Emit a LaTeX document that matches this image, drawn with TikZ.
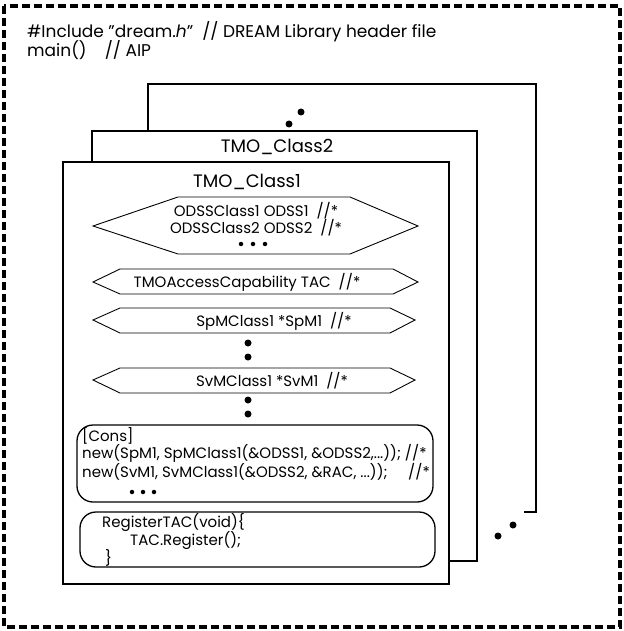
\documentclass[tikz,border=0pt]{standalone}
\usepackage{fontspec}
\setmainfont{Poppins}
\begin{document}
\begin{tikzpicture}[x=1pt,y=-1pt,
  frame/.style={line width=2.2pt,line join=miter},
  hexa/.style={line width=0.9pt,line join=miter},
  codebox/.style={line width=1.3pt,rounded corners=16pt},
  dot/.style={fill=black,circle,inner sep=0pt,minimum size=7pt},
  hdr/.style={font=\fontsize{17}{20}\selectfont,anchor=base west,inner sep=0pt},
  title/.style={font=\fontsize{18}{21}\selectfont,anchor=base,inner sep=0pt},
  code/.style={font=\fontsize{15}{17}\selectfont,inner sep=0pt},
  codel/.style={code,anchor=base west}]
\useasboundingbox (0,0) rectangle (623,631);

% outer program frame
\draw[line width=4pt,dash pattern=on 8pt off 4pt] (4,6) rectangle (620,627);
\node[hdr] (inc) at (27,38) {\#Include "dream.\textit{h}"\ \ // DREAM Library header file};
\node[hdr] (main) at (27,57) {main()\ \ \ \ // AIP};

% stacked TMO class frames, back to front
\draw[frame] (148,131) -- (148,84) -- (536,84) -- (536,512) -- (524,512);
\node[dot] (d1) at (289,124) {};
\node[dot] (d2) at (301,112) {};
\draw[frame] (92,162) -- (92,131) -- (477,131) -- (477,561) -- (449,561);
\node[title] (c2) at (277,153) {TMO\_Class2};
\draw[frame,fill=white] (63,162) rectangle (449,584);
\node[title] (c1) at (247,187) {TMO\_Class1};

% trailing ellipsis for further classes
\node[dot] (d3) at (498,536) {};
\node[dot] (d4) at (513,525) {};

% ODSS declarations
\draw[hexa] (93,226) -- (178,197) -- (350,197) -- (418,226) -- (350,254) -- (178,254) -- cycle;
\node[code,anchor=base] (o1) at (256,216) {ODSSClass1 ODSS1\ \ //*};
\node[code,anchor=base] (o2) at (256,233) {ODSSClass2 ODSS2\ \ //*};
\node[dot,minimum size=4.5pt] (o3) at (241,244) {};
\node[dot,minimum size=4.5pt] (o4) at (253,244) {};
\node[dot,minimum size=4.5pt] (o5) at (265,244) {};

% access capability
\draw[hexa] (93,282) -- (120,269) -- (393,269) -- (418,282) -- (393,294) -- (120,294) -- cycle;
\node[code,anchor=base] (tac) at (247,287) {TMOAccessCapability TAC\ \ //*};

% service managers
\draw[hexa] (93,320) -- (120,308) -- (390,308) -- (415,320) -- (390,333) -- (120,333) -- cycle;
\node[code,anchor=base] (spm) at (274,326) {SpMClass1 *SpM1\ \ //*};
\node[dot] (e1) at (248,343) {};
\node[dot] (e2) at (248,357) {};
\draw[hexa] (93,380) -- (120,368) -- (390,368) -- (415,380) -- (390,393) -- (120,393) -- cycle;
\node[code,anchor=base] (svm) at (272,386) {SvMClass1 *SvM1\ \ //*};
\node[dot] (e3) at (248,400) {};
\node[dot] (e4) at (248,414) {};

% constructor block
\draw[codebox] (77,425) rectangle (433,502);
\node[codel] (k0) at (82,441) {[Cons]};
\node[codel] (k1) at (82,458) {new(SpM1, SpMClass1(\&ODSS1, \&ODSS2,...)); //*};
\node[codel] (k2) at (82,477) {new(SvM1, SvMClass1(\&ODSS2, \&RAC, ...));};
\node[code,anchor=base east] (k2c) at (430,477) {//*};
\node[dot,minimum size=4.5pt] (k3) at (132,492) {};
\node[dot,minimum size=4.5pt] (k4) at (143,492) {};
\node[dot,minimum size=4.5pt] (k5) at (154,492) {};

% registration block
\draw[codebox] (80,512) rectangle (435,567);
\node[codel] (r1) at (102,527) {RegisterTAC(void)\{};
\node[codel] (r2) at (130,545) {TAC.Register();};
\node[codel] (r3) at (105,563) {\}};
\end{tikzpicture}
\end{document}
